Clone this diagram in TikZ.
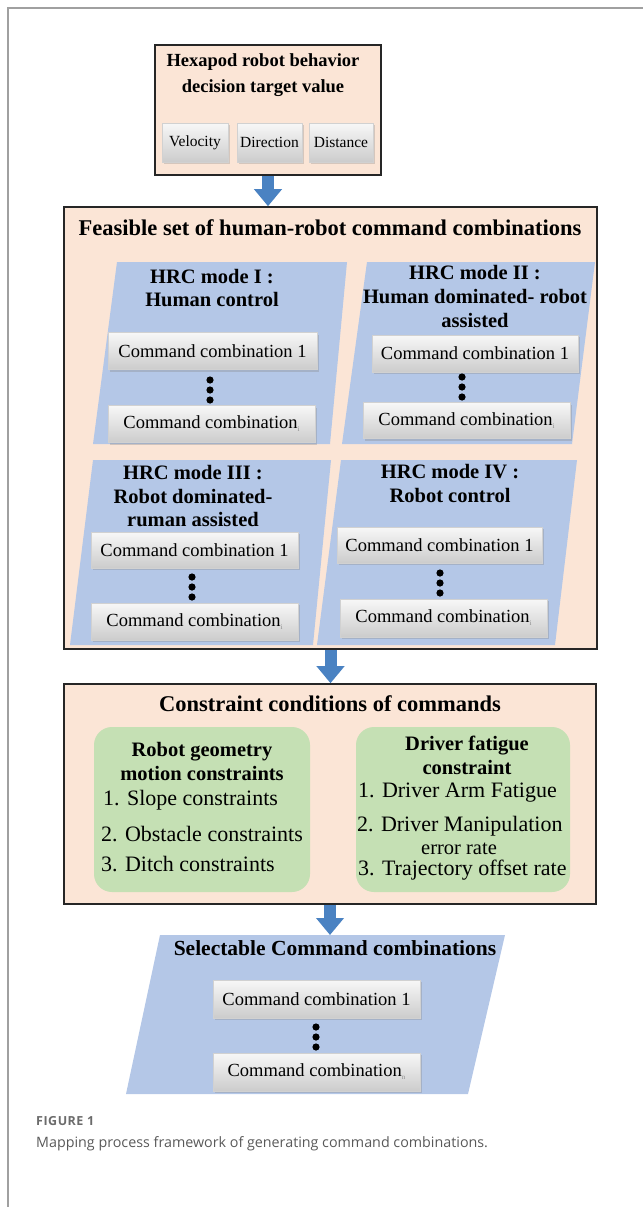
\documentclass[tikz,border=0pt]{standalone}
\usepackage{fontspec}
\setmainfont{Liberation Serif}
\newfontfamily\capfont{Open Sans}
\newfontfamily\capfontls[LetterSpace=4]{Open Sans}
\usetikzlibrary{arrows.meta,shadows}
\definecolor{peach}{HTML}{FBE5D6}
\definecolor{hrcblue}{HTML}{B4C7E7}
\definecolor{greenbox}{HTML}{C5E0B4}
\definecolor{arrowblue}{HTML}{4A82C2}
\definecolor{framegray}{HTML}{A0A0A0}
\newcommand\fs[2]{\fontsize{#1}{#2}\selectfont}
\newcommand\subidx[1]{\textcolor{black!45}{\fs{7}{7}\raisebox{-3pt}{#1}}}
\begin{document}
\begin{tikzpicture}[x=1pt,y=-1pt,
  box/.style={draw=black!85, line width=1.6pt, fill=peach, inner sep=0pt},
  btn/.style={draw=black!18, line width=0.4pt, top color=black!3, bottom color=black!20,
    drop shadow={shadow xshift=1.5pt, shadow yshift=-2pt, opacity=0.3},
    inner sep=0pt, font=\fs{18.5}{20}, minimum width=207pt, minimum height=37pt},
  smallbtn/.style={btn, font=\fs{15.5}{17}, minimum width=65pt, minimum height=39pt},
  gbox/.style={fill=greenbox, rounded corners=18pt, inner sep=0pt},
  boxtitle/.style={font=\bfseries\fs{22.5}{26}, inner sep=0pt},
  modetitle/.style={font=\bfseries\fs{20.5}{23.5}, align=center, inner sep=0pt},
  item/.style={font=\fs{22}{24}, anchor=west, inner sep=0pt},
  bigarrow/.style={draw=arrowblue, line width=12pt, -{Triangle[width=27pt,length=17pt]}},
  dot/.style={fill=black}]
\useasboundingbox (0,0) rectangle (643,1207);
% outer frame lines
\draw[framegray, line width=1.5pt] (8,1207) -- (8,8) -- (643,8);

% ---------- top box ----------
\node[box, minimum width=226pt, minimum height=130pt] (top) at (268,110) {};
\node[font=\bfseries\fs{18.5}{26}, align=center, inner sep=0pt] (toptitle) at (263,75)
  {Hexapod robot behavior\\decision target value};
\node[smallbtn, minimum width=66pt] (vel) at (195,142.5) {Velocity};
\node[smallbtn] (dir) at (269.5,142.5) {Direction};
\node[smallbtn, minimum width=64pt] (dist) at (341,142.5) {Distance};

% ---------- feasible set box ----------
\node[box, minimum width=533pt, minimum height=442pt] (feas) at (330.5,428) {};
\node[boxtitle] (feastitle) at (330,228) {Feasible set of human-robot command combinations};

\fill[hrcblue] (117,262) -- (347,262) -- (330,444) -- (93,444) -- cycle;
\fill[hrcblue] (367,262) -- (595,262) -- (572,444) -- (342,444) -- cycle;
\fill[hrcblue] (93,460) -- (331,460) -- (313,645) -- (70,645) -- cycle;
\fill[hrcblue] (341,460) -- (577,460) -- (555,645) -- (317,645) -- cycle;

\node[modetitle, align=center] (m1) at (212,288) {HRC mode I :\\Human control};
\node[modetitle, font=\bfseries\fs{20.5}{24}] (m2) at (475,296) {HRC mode II :\\Human dominated- robot\\assisted};
\node[modetitle] (m3) at (193,496.5) {HRC mode III :\\Robot dominated-\\ruman assisted};
\node[modetitle] (m4) at (450,483.5) {HRC mode IV :\\Robot control};

\node[btn, minimum width=209pt] (m1a) at (212.5,351) {Command combination 1};
\node[btn] (m1b) at (211.5,424) {Command combination\subidx{i}};
\node[btn, minimum width=206pt] (m2a) at (475,353.5) {Command combination 1};
\node[btn, minimum height=36pt] (m2b) at (466.5,420.5) {Command combination\subidx{i}};
\node[btn, minimum height=36pt] (m3a) at (194.5,550) {Command combination 1};
\node[btn] (m3b) at (194.5,621.5) {Command combination\subidx{i}};
\node[btn, minimum width=205pt, minimum height=36pt] (m4a) at (439.5,545) {Command combination 1};
\node[btn, minimum height=38pt] (m4b) at (443.5,618) {Command combination\subidx{i}};

% ---------- constraint box ----------
\node[box, minimum width=532pt, minimum height=220pt] (cons) at (330,794) {};
\node[boxtitle] (constitle) at (330,704) {Constraint conditions of commands};
\node[gbox, minimum width=216pt, minimum height=165pt] (geo) at (202,809.5) {};
\node[gbox, minimum width=214pt, minimum height=165pt] (fat) at (463,809.5) {};
\node[modetitle, font=\bfseries\fs{20.5}{24}] (geotitle) at (202,761) {Robot geometry\\motion constraints};
\node[item] (g1) at (103,800) {1. Slope constraints};
\node[item] (g2) at (101,834) {2. Obstacle constraints};
\node[item] (g3) at (101,864) {3. Ditch constraints};
\node[modetitle, font=\bfseries\fs{20.5}{24}] (fattitle) at (467,755) {Driver fatigue\\constraint};
\node[item] (f1) at (358,793) {1. Driver Arm Fatigue};
\node[item] (f2) at (357,826) {2. Driver Manipulation};
\node[font=\fs{20.5}{22}, inner sep=0pt] (f2b) at (459,849) {error rate};
\node[item] (f3) at (358,870) {3. Trajectory offset rate};

% ---------- selectable ----------
\fill[hrcblue] (160,935) -- (505,935) -- (468,1094) -- (126,1094) -- cycle;
\coordinate (selTop) at (332,935);
\node[font=\bfseries\fs{21.5}{24}, inner sep=0pt] (seltitle) at (335,948) {Selectable Command combinations};
\node[btn, minimum height=38pt] (s1) at (316.5,999) {Command combination 1};
\node[btn, minimum height=38pt] (s2) at (316.5,1072) {Command combination\subidx{n}};

% ---------- vertical ellipsis dots ----------
\foreach \x/\y in {210/380, 462/377, 192/577, 440/573, 316/1027}{
  \fill[dot] (\x,\y) circle (3.6pt);
  \fill[dot] (\x,\y+10) circle (3.6pt);
  \fill[dot] (\x,\y+20) circle (3.6pt);
}

% ---------- arrows ----------
\draw[bigarrow] (top.south) -- (top.south |- feas.north);
\draw[bigarrow] (feas.south) -- (feas.south |- cons.north);
\draw[bigarrow] (cons.south) -- (cons.south |- selTop);

% ---------- caption ----------
\node[anchor=base west, font=\capfontls\bfseries\fs{12.5}{14}, text=black!58, inner sep=0pt] (figlab) at (36,1125) {FIGURE 1};
\node[anchor=base west, font=\capfont\fs{14.3}{16}, text=black!65, inner sep=0pt] (cap) at (36,1147)
  {Mapping process framework of generating command combinations.};
\end{tikzpicture}
\end{document}
